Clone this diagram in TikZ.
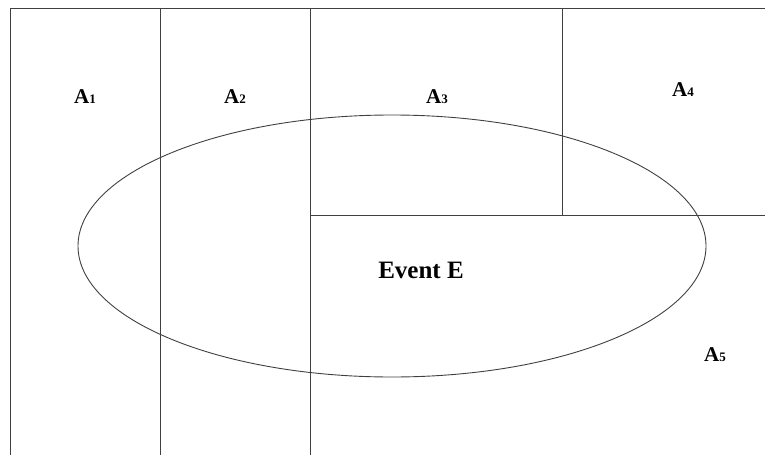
\documentclass[tikz,border=0pt]{standalone}
\usepackage{fontspec}
\setmainfont{Liberation Serif}
\usetikzlibrary{shapes.geometric}
\begin{document}
\begin{tikzpicture}[x=1pt,y=-1pt,
  ln/.style={draw=black!75,line width=0.9pt},
  lab/.style={font=\fontsize{21}{23}\selectfont\bfseries,inner sep=0pt},
  evlab/.style={font=\fontsize{25}{27}\selectfont\bfseries,inner sep=0pt}]
\useasboundingbox (0,0) rectangle (765,455);
\coordinate (tl) at (10,8);
\coordinate (bl) at (10,455);
\coordinate (tr) at (765,8);
\coordinate (v1t) at (160,8); \coordinate (v1b) at (160,455);
\coordinate (v2t) at (310,8); \coordinate (v2b) at (310,455);
\coordinate (v3t) at (562,8); \coordinate (v3b) at (562,215);
\coordinate (hl) at (310,215); \coordinate (hr) at (765,215);
\draw[ln] (bl) -- (tl) -- (tr);
\draw[ln] (v1t) -- (v1b);
\draw[ln] (v2t) -- (v2b);
\draw[ln] (v3t) -- (v3b);
\draw[ln] (hl) -- (hr);
\node[ln,draw,ellipse,minimum width=628,minimum height=262,inner sep=0pt] (E) at (392,246) {};
\node[lab] (a1) at (85,97) {A{\fontsize{13}{15}\selectfont 1}};
\node[lab] (a2) at (235,97) {A{\fontsize{13}{15}\selectfont 2}};
\node[lab] (a3) at (437,97) {A{\fontsize{13}{15}\selectfont 3}};
\node[lab] (a4) at (683,90) {A{\fontsize{13}{15}\selectfont 4}};
\node[evlab] (ev) at (421,270) {Event E};
\node[lab] (a5) at (715,355) {A{\fontsize{13}{15}\selectfont 5}};
\end{tikzpicture}
\end{document}
